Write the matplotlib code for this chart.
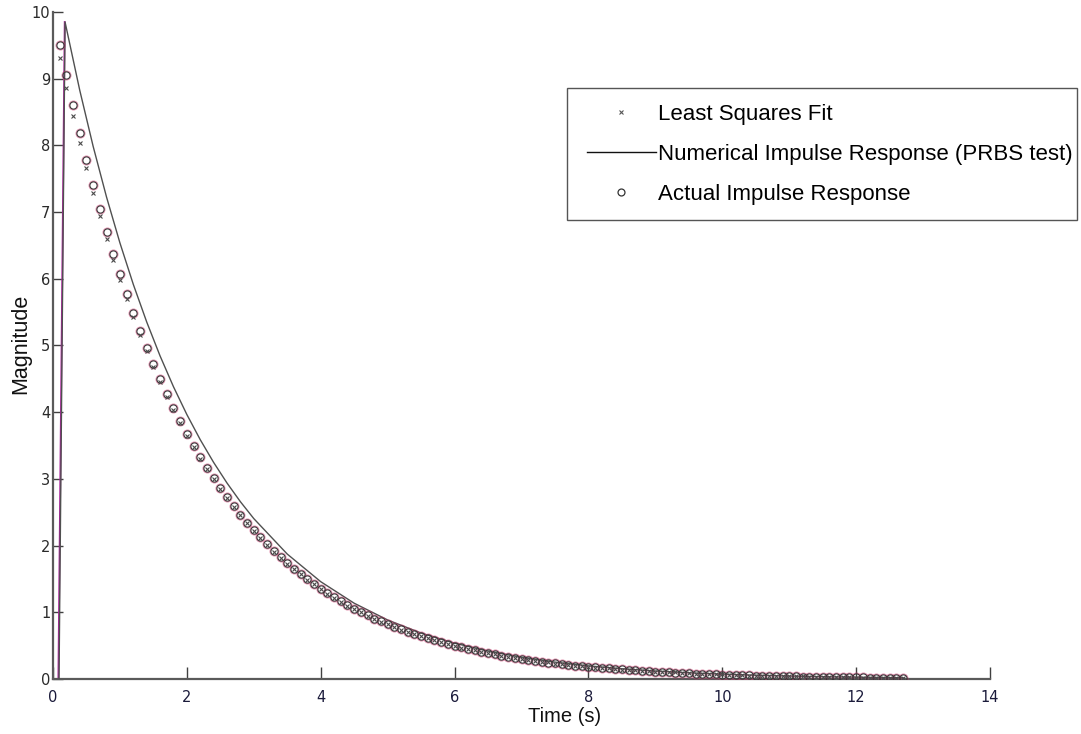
import matplotlib
matplotlib.use("Agg")
import matplotlib.pyplot as plt
from matplotlib.lines import Line2D
from matplotlib.patches import Rectangle

# ---------------- data ----------------
time_s = [
    0.1, 0.2, 0.3, 0.4, 0.5, 0.6, 0.7, 0.8, 0.9, 1.0,
    1.1, 1.2, 1.3, 1.4, 1.5, 1.6, 1.7, 1.8, 1.9, 2.0,
    2.1, 2.2, 2.3, 2.4, 2.5, 2.6, 2.7, 2.8, 2.9, 3.0,
    3.1, 3.2, 3.3, 3.4, 3.5, 3.6, 3.7, 3.8, 3.9, 4.0,
    4.1, 4.2, 4.3, 4.4, 4.5, 4.6, 4.7, 4.8, 4.9, 5.0,
    5.1, 5.2, 5.3, 5.4, 5.5, 5.6, 5.7, 5.8, 5.9, 6.0,
    6.1, 6.2, 6.3, 6.4, 6.5, 6.6, 6.7, 6.8, 6.9, 7.0,
    7.1, 7.2, 7.3, 7.4, 7.5, 7.6, 7.7, 7.8, 7.9, 8.0,
    8.1, 8.2, 8.3, 8.4, 8.5, 8.6, 8.7, 8.8, 8.9, 9.0,
    9.1, 9.2, 9.3, 9.4, 9.5, 9.6, 9.7, 9.8, 9.9, 10.0,
    10.1, 10.2, 10.3, 10.4, 10.5, 10.6, 10.7, 10.8, 10.9, 11.0,
    11.1, 11.2, 11.3, 11.4, 11.5, 11.6, 11.7, 11.8, 11.9, 12.0,
    12.1, 12.2, 12.3, 12.4, 12.5, 12.6, 12.7,
]

actual_response = [
    9.512, 9.048, 8.607, 8.187, 7.788, 7.408, 7.047, 6.703, 6.376, 6.065,
    5.769, 5.488, 5.220, 4.966, 4.724, 4.493, 4.274, 4.066, 3.867, 3.679,
    3.499, 3.329, 3.166, 3.012, 2.865, 2.725, 2.592, 2.466, 2.346, 2.231,
    2.122, 2.019, 1.920, 1.827, 1.738, 1.653, 1.572, 1.496, 1.423, 1.353,
    1.287, 1.225, 1.165, 1.108, 1.054, 1.003, 0.954, 0.907, 0.863, 0.821,
    0.781, 0.743, 0.707, 0.672, 0.639, 0.608, 0.578, 0.550, 0.523, 0.498,
    0.474, 0.450, 0.429, 0.408, 0.388, 0.369, 0.351, 0.334, 0.317, 0.302,
    0.287, 0.273, 0.260, 0.247, 0.235, 0.224, 0.213, 0.202, 0.193, 0.183,
    0.174, 0.166, 0.158, 0.150, 0.143, 0.136, 0.129, 0.123, 0.117, 0.111,
    0.106, 0.101, 0.096, 0.091, 0.087, 0.082, 0.078, 0.074, 0.071, 0.067,
    0.064, 0.061, 0.058, 0.055, 0.052, 0.050, 0.047, 0.045, 0.043, 0.041,
    0.039, 0.037, 0.035, 0.034, 0.032, 0.030, 0.029, 0.027, 0.026, 0.025,
    0.024, 0.022, 0.021, 0.020, 0.019, 0.018, 0.017,
]

least_squares_fit = [
    9.313, 8.868, 8.444, 8.040, 7.655, 7.287, 6.938, 6.604, 6.287, 5.984,
    5.696, 5.422, 5.160, 4.912, 4.675, 4.449, 4.234, 4.030, 3.834, 3.649,
    3.472, 3.305, 3.144, 2.992, 2.847, 2.709, 2.577, 2.453, 2.334, 2.220,
    2.11, 2.01, 1.91, 1.82, 1.73, 1.65, 1.57, 1.49, 1.42, 1.35,
    1.28, 1.22, 1.16, 1.10, 1.05, 1.00, 0.95, 0.90, 0.86, 0.82,
    0.78, 0.74, 0.70, 0.67, 0.64, 0.61, 0.58, 0.55, 0.52, 0.50,
    0.47, 0.45, 0.43, 0.41, 0.39, 0.37, 0.35, 0.33, 0.32, 0.30,
    0.29, 0.27, 0.26, 0.25, 0.23, 0.22, 0.21, 0.20, 0.19, 0.18,
    0.17, 0.17, 0.16, 0.15, 0.14, 0.14, 0.13, 0.12, 0.12, 0.11,
    0.11, 0.10, 0.10, 0.09, 0.09, 0.08, 0.08, 0.07, 0.07, 0.07,
    0.06, 0.06, 0.06, 0.05, 0.05, 0.05, 0.05, 0.04, 0.04, 0.04,
    0.04, 0.04, 0.03, 0.03, 0.03, 0.03, 0.03, 0.03, 0.03, 0.02,
    0.02, 0.02, 0.02, 0.02, 0.02, 0.02, 0.02,
]

numerical_t = [
    0.09, 0.18, 0.4, 0.6, 0.8, 1.0, 1.2, 1.4, 1.6, 1.8, 2.0,
    2.2, 2.4, 2.6, 2.8, 3.0, 3.5, 4.0, 4.5, 5.0, 5.5, 6.0, 6.5,
    7.0, 7.5, 8.0, 8.5, 9.0, 9.5, 10.0, 10.5, 11.0, 11.5, 12.0, 12.5, 12.7,
]
numerical_response = [
    0.0, 9.85, 8.825, 7.985, 7.225, 6.538, 5.916, 5.353, 4.843, 4.382, 3.965,
    3.588, 3.247, 2.938, 2.658, 2.405, 1.873, 1.459, 1.136, 0.885, 0.689, 0.537, 0.418,
    0.325, 0.253, 0.197, 0.154, 0.120, 0.093, 0.073, 0.057, 0.044, 0.034, 0.027, 0.021, 0.019,
]

# magenta rise from zero at the start of the record
rise_t = [0.08, 0.175]
rise_y = [0.0, 9.85]

x_ticks = [0, 2, 4, 6, 8, 10, 12, 14]
y_ticks = [0, 1, 2, 3, 4, 5, 6, 7, 8, 9, 10]

legend_labels = ["Least Squares Fit", "Numerical Impulse Response (PRBS test)",
                 "Actual Impulse Response"]

# ---------------- figure ----------------
W, H = 1081, 734
fig = plt.figure(figsize=(W / 100, H / 100), dpi=100)
ax = fig.add_axes([53 / W, 1 - 679 / H, 937 / W, 667 / H])

ax.plot(rise_t, rise_y, color="#a8249a", lw=1.3, zorder=2)
ax.plot(numerical_t, numerical_response, color="#505050", lw=1.0, zorder=3)
# reddish halo of the sampled response (tint seen on the circles)
ax.plot(time_s, actual_response, "o", mfc="none", mec="#c8386e",
        ms=6.2, mew=1.0, alpha=0.55, zorder=3.5)
ax.plot(time_s, actual_response, "o", mfc="none", mec="#3a3a3a",
        ms=5.2, mew=0.8, zorder=4)
ax.plot(time_s, least_squares_fit, "x", color="#4a4a4a", ms=3.2, mew=0.8,
        zorder=5)

ax.set_xlim(0, 14)
ax.set_ylim(0, 10)
ax.set_xticks(x_ticks)
ax.set_yticks(y_ticks)
ax.set_xticklabels([str(v) for v in x_ticks])
ax.set_yticklabels([str(v) for v in y_ticks])

for s in ("top", "right"):
    ax.spines[s].set_visible(False)
for s in ("left", "bottom"):
    ax.spines[s].set_color("#5a5a5a")
    ax.spines[s].set_linewidth(1.6)

tick_font = ["Liberation Sans Narrow", "DejaVu Sans"]
ax.tick_params(axis="x", direction="in", length=9, width=1.0, colors="#404040",
               pad=8, labelsize=10.5, labelcolor="#1a1a3a")
ax.tick_params(axis="y", direction="in", length=7, width=1.0, colors="#404040",
               pad=2, labelsize=10.5, labelcolor="#2a2a2a")
for lab in ax.get_xticklabels() + ax.get_yticklabels():
    lab.set_family(tick_font)

label_font = ["Liberation Sans", "DejaVu Sans"]
fig.text(565 / W, 1 - 716 / H, "Time (s)", ha="center", va="center",
         fontsize=14.5, family=label_font, color="#111111")
fig.text(21 / W, 1 - 344 / H, "Magnitude", ha="center", va="center",
         rotation=90, fontsize=15.5, family=label_font, color="#111111")

# legend (frame drawn separately as a rectangle)
handles = [
    Line2D([], [], ls="none", marker="x", color="#555555", ms=3.5, mew=0.8),
    Line2D([], [], color="#111111", lw=1.0),
    Line2D([], [], ls="none", marker="o", mfc="none", mec="#333333", ms=5,
           mew=0.9),
]
leg = fig.legend(handles, legend_labels, loc="upper left",
                 bbox_to_anchor=(587 / W, 1 - 104 / H),
                 prop={"family": label_font, "size": 16},
                 frameon=False, handlelength=3.1,
                 handletextpad=0.1, labelspacing=0.85, borderpad=0.0,
                 borderaxespad=0.0)
fig.patches.append(Rectangle((567 / W, 1 - 220 / H), (1077 - 567) / W,
                             (220 - 88) / H, transform=fig.transFigure,
                             fill=False, edgecolor="#555555", lw=1.0))

fig.savefig("out.png", dpi=100)
